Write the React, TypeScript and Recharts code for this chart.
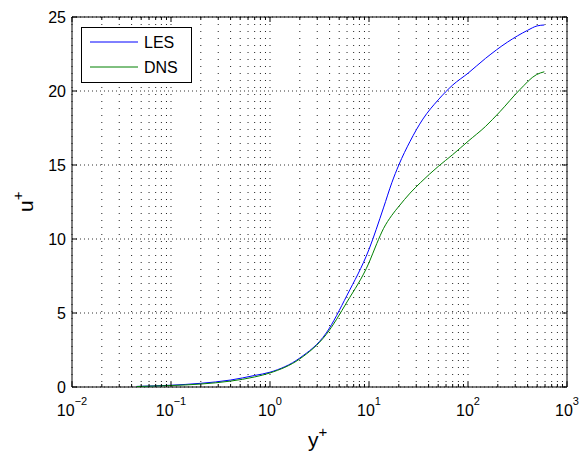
import React from 'react';
import { CartesianGrid, Legend, Line, LineChart, ReferenceArea, XAxis, YAxis } from 'recharts';

// near-wall velocity profile, u+ against y+
const lesYPlus = [0.045, 0.1, 0.2, 0.4, 0.7, 1, 2, 3.7, 6, 10, 14, 17, 20, 26, 35, 50, 70, 100, 150, 250, 400, 500, 590];
const lesU = [0.04, 0.12, 0.25, 0.47, 0.78, 1.0, 1.96, 3.65, 6.2, 9.3, 12.1, 13.8, 15.0, 16.6, 18.1, 19.4, 20.4, 21.2, 22.2, 23.3, 24.1, 24.4, 24.46];

const dnsYPlus = [0.045, 0.1, 0.2, 0.4, 0.7, 1, 2, 3.7, 6, 10, 12, 14, 17, 20, 26, 33, 50, 70, 100, 150, 210, 335, 490, 590];
const dnsU = [0.03, 0.1, 0.2, 0.4, 0.68, 0.95, 1.9, 3.55, 5.75, 8.4, 9.7, 10.7, 11.6, 12.2, 13.1, 13.8, 14.9, 15.7, 16.6, 17.6, 18.6, 20.1, 21.1, 21.3];

const majorExponents = [-2, -1, 0, 1, 2, 3];
const minorSteps = [2, 3, 4, 5, 6, 7, 8, 9];
const yTicks = [0, 5, 10, 15, 20, 25];

const majorTicks = majorExponents.map((e) => Math.pow(10, e));
const minorTicks = majorExponents.slice(0, -1).flatMap((e) => minorSteps.map((s) => s * Math.pow(10, e)));
const xTicks = [...majorTicks, ...minorTicks].sort((a, b) => a - b);

const lesData = lesYPlus.map((y, i) => ({ yPlus: y, u: lesU[i] }));
const dnsData = dnsYPlus.map((y, i) => ({ yPlus: y, u: dnsU[i] }));

const FONT = '"Liberation Sans", Arial, Helvetica, sans-serif';
const PLOT_TOP = 17;
const PLOT_BOTTOM = 387;
const PLOT_LEFT = 72;
const PLOT_RIGHT = 567;

const XTick = (props: any) => {
    const { x, payload } = props;
    const v = payload.value;
    const exp = Math.round(Math.log10(v));
    const major = Math.abs(Math.pow(10, exp) - v) < 1e-9 * v;
    const len = major ? 5 : 3;
    return (
        <g>
            <line x1={x} x2={x} y1={PLOT_BOTTOM} y2={PLOT_BOTTOM - len} stroke="#000" />
            <line x1={x} x2={x} y1={PLOT_TOP} y2={PLOT_TOP + len} stroke="#000" />
            {major && (
                <text x={x} y={416} textAnchor="middle" fontFamily={FONT} fontSize={16} fill="#000">
                    10
                    <tspan dy={-11} fontSize={11}>
                        {exp < 0 ? '\u2212' + Math.abs(exp) : String(exp)}
                    </tspan>
                </text>
            )}
        </g>
    );
};

const YTick = (props: any) => {
    const { y, payload } = props;
    return (
        <g>
            <line x1={PLOT_LEFT} x2={PLOT_LEFT + 5} y1={y} y2={y} stroke="#000" />
            <line x1={PLOT_RIGHT} x2={PLOT_RIGHT - 5} y1={y} y2={y} stroke="#000" />
            <text x={PLOT_LEFT - 6} y={y + 6} textAnchor="end" fontFamily={FONT} fontSize={16} fill="#000">
                {payload.value}
            </text>
        </g>
    );
};

const LegendBox = () => (
    <svg width={112} height={57} style={{ display: 'block' }}>
        <rect x={0.5} y={0.5} width={110} height={55} fill="#fff" stroke="#000" />
        <line x1={9} x2={57} y1={15} y2={15} stroke="#0000ff" />
        <line x1={9} x2={57} y1={40} y2={40} stroke="#008000" />
        <text x={63} y={21} fontFamily={FONT} fontSize={16} fill="#000">LES</text>
        <text x={63} y={46} fontFamily={FONT} fontSize={16} fill="#000">DNS</text>
    </svg>
);

const App: React.FC = () => {
    return (
        <div style={{ position: 'absolute', left: 0, top: 0, background: '#fff' }}>
            <LineChart width={582} height={453} margin={{ top: PLOT_TOP, right: 582 - PLOT_RIGHT, bottom: 0, left: 0 }}>
                <CartesianGrid vertical={false} stroke="#333" strokeDasharray="1 3" />
                <CartesianGrid horizontal={false} stroke="#222" strokeDasharray="1 6" />
                <XAxis
                    dataKey="yPlus"
                    type="number"
                    scale="log"
                    domain={[0.01, 1000]}
                    ticks={xTicks}
                    interval={0}
                    allowDataOverflow
                    height={66}
                    axisLine={false}
                    tickLine={false}
                    tickSize={0}
                    tick={<XTick />}
                    label={{
                        content: () => (
                            <text x={308} y={447} fontFamily={FONT} fontSize={21} fill="#000">
                                y<tspan dy={-10} fontSize={15}>+</tspan>
                            </text>
                        ),
                    }}
                />
                <YAxis
                    type="number"
                    domain={[0, 25]}
                    ticks={yTicks}
                    interval={0}
                    width={PLOT_LEFT}
                    axisLine={false}
                    tickLine={false}
                    tickSize={0}
                    tick={<YTick />}
                    label={{
                        content: () => (
                            <text
                                x={33}
                                y={212}
                                transform="rotate(-90 33 212)"
                                fontFamily={FONT}
                                fontSize={21}
                                fill="#000"
                            >
                                u<tspan dy={-10} fontSize={15}>+</tspan>
                            </text>
                        ),
                    }}
                />
                <ReferenceArea x1={0.01} x2={1000} y1={0} y2={25} fill="none" stroke="#000" strokeWidth={1} ifOverflow="visible" />
                <Legend
                    layout="vertical"
                    align="center"
                    verticalAlign="middle"
                    wrapperStyle={{ left: 81, top: 27, width: 112, height: 57 }}
                    content={() => <LegendBox />}
                />
                <Line
                    data={lesData}
                    dataKey="u"
                    name="LES"
                    type="monotone"
                    stroke="#0000ff"
                    strokeWidth={1}
                    dot={false}
                    isAnimationActive={false}
                />
                <Line
                    data={dnsData}
                    dataKey="u"
                    name="DNS"
                    type="monotone"
                    stroke="#008000"
                    strokeWidth={1}
                    dot={false}
                    isAnimationActive={false}
                />
            </LineChart>
        </div>
    );
};

export default App;
